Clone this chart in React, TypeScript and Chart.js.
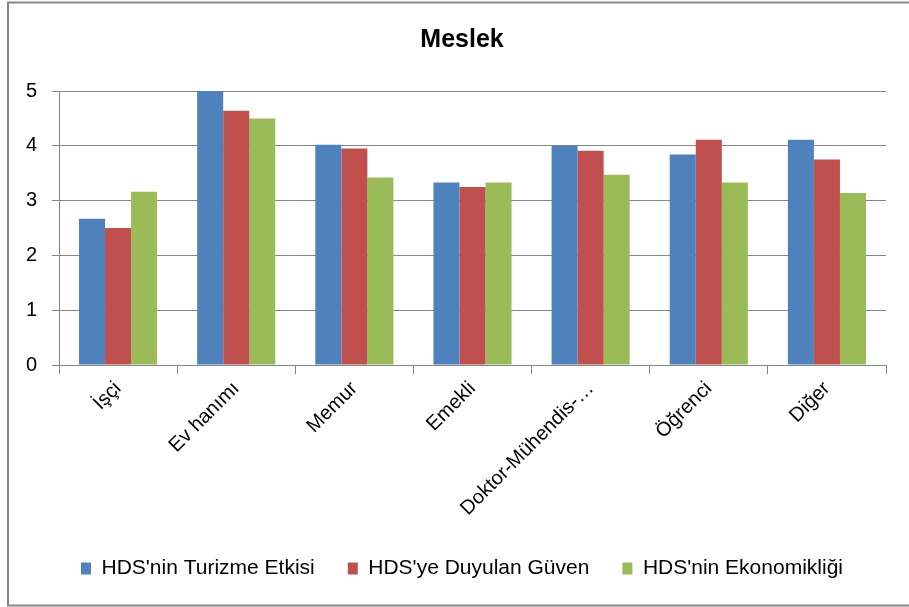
import React, { useEffect, useRef } from "react";
import { Chart, registerables } from "chart.js";

Chart.register(...registerables);

const categories = ["İşçi", "Ev hanımı", "Memur", "Emekli", "Doktor-Mühendis-…", "Öğrenci", "Diğer"];
const seriesNames = ["HDS'nin Turizme Etkisi", "HDS'ye Duyulan Güven", "HDS'nin Ekonomikliği"];
const turizmeEtkisi = [2.67, 5.0, 4.02, 3.33, 4.0, 3.84, 4.11];
const duyulanGuven = [2.5, 4.64, 3.95, 3.25, 3.91, 4.11, 3.75];
const ekonomikligi = [3.16, 4.5, 3.42, 3.33, 3.47, 3.33, 3.14];
const yTicks = [0, 1, 2, 3, 4, 5];
const titleText = "Meslek";

const FONT = "'Liberation Sans', Arial, sans-serif";
const GRID = "#868686";

const frame = {
  id: "frame",
  afterDraw(chart: any) {
    const ctx = chart.ctx;
    ctx.save();
    ctx.strokeStyle = GRID;
    ctx.lineWidth = 2;
    ctx.beginPath();
    ctx.moveTo(8, 1.5);
    ctx.lineTo(8, 606);
    ctx.moveTo(7, 2.5);
    ctx.lineTo(909, 2.5);
    ctx.moveTo(7, 605.5);
    ctx.lineTo(909, 605.5);
    ctx.stroke();
    ctx.restore();
  },
};

export default function App() {
  const ref = useRef<HTMLCanvasElement | null>(null);
  useEffect(() => {
    document.body.style.margin = "0";
    const canvas = ref.current!;
    const chart = new Chart(canvas, {
      type: "bar",
      data: {
        labels: categories,
        datasets: [
          { label: seriesNames[0], data: turizmeEtkisi, backgroundColor: "#4F81BD", borderWidth: 0 },
          { label: seriesNames[1], data: duyulanGuven, backgroundColor: "#C0504D", borderWidth: 0 },
          { label: seriesNames[2], data: ekonomikligi, backgroundColor: "#9BBB59", borderWidth: 0 },
        ],
      },
      options: {
        responsive: false,
        animation: false,
        layout: { padding: { left: 15, right: 0, top: 0, bottom: 18 } },
        datasets: { bar: { categoryPercentage: 0.661, barPercentage: 1 } },
        plugins: {
          title: {
            display: true,
            text: titleText,
            color: "#000",
            font: { family: FONT, size: 25, weight: "bold" },
            padding: { top: 25, bottom: 36 },
          },
          legend: {
            position: "bottom",
            labels: {
              color: "#000",
              font: { family: FONT, size: 21 },
              boxWidth: 10,
              boxHeight: 12,
              padding: 33,
            },
          },
          tooltip: { enabled: false },
        },
        scales: {
          x: {
            grid: { offset: true, drawOnChartArea: false, drawTicks: true, tickLength: 9, color: GRID },
            border: { color: GRID, width: 1 },
            ticks: {
              color: "#000",
              font: { family: FONT, size: 20 },
              minRotation: 45,
              maxRotation: 45,
              autoSkip: false,
              padding: 3,
            },
            afterFit: (s: any) => {
              s.height = 160;
            },
          },
          y: {
            min: 0,
            max: 5,
            afterBuildTicks: (s: any) => {
              s.ticks = yTicks.map((v) => ({ value: v }));
            },
            grid: { color: GRID, tickLength: 7, drawTicks: true },
            border: { color: GRID, width: 1 },
            ticks: { color: "#000", font: { family: FONT, size: 20 }, padding: 15 },
            afterFit: (s: any) => {
              s.width = 44;
            },
          },
          y2: {
            position: "right",
            grid: { display: false, drawTicks: false },
            border: { display: false },
            ticks: { display: false },
            afterFit: (s: any) => {
              s.width = 23;
            },
          },
        },
      },
      plugins: [frame],
    });
    return () => chart.destroy();
  }, []);
  return (
    <div style={{ width: 909, height: 607, background: "#fff" }}>
      <canvas ref={ref} width={909} height={607} style={{ display: "block" }} />
    </div>
  );
}
